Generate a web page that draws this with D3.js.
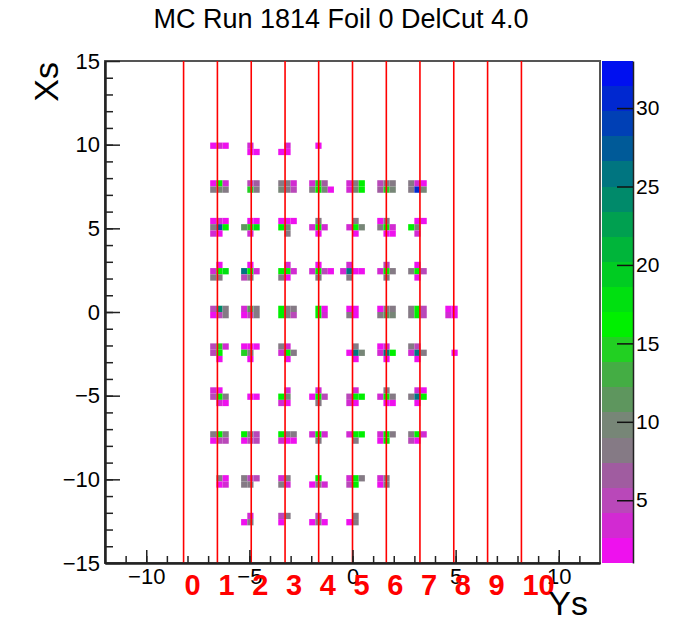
<!doctype html>
<html>
<head>
<meta charset="utf-8">
<title>MC Run 1814 Foil 0 DelCut 4.0</title>
<script src="https://cdn.jsdelivr.net/npm/d3@7"></script>
<style>
  body { margin: 0; background: #fff; }
  text { font-family: "Liberation Sans", Arial, sans-serif; }
</style>
</head>
<body>
<svg width="692" height="622"></svg>
<script>
// --- data ---
var title = "MC Run 1814 Foil 0 DelCut 4.0";
var xTicks = [-10, -5, 0, 5, 10];
var yTicks = [-15, -10, -5, 0, 5, 10, 15];
var zTicks = [5, 10, 15, 20, 25, 30];
// red sieve column lines and their labels
var lineXs = [-8.19, -6.55, -4.91, -3.27, -1.64, 0, 1.64, 3.27, 4.91, 6.55, 8.19];
var lineLabels = ["0", "1", "2", "3", "4", "5", "6", "7", "8", "9", "10"];
// hole rows (Xs) where the spots sit
var rowYs = [9.8, 7.5, 5.0, 2.5, 0, -2.5, -5.0, -7.5, -10.0, -12.4];
// 20 palette bands, low -> high
var palette = ["#ee11ee", "#d22ad2", "#b948b9", "#a05ca0", "#857a85", "#778677", "#5e965e",
               "#44ad44", "#22d022", "#00f000", "#00e010", "#00cc22", "#00b53a", "#00a050",
               "#008a6a", "#007580", "#005a98", "#0040b5", "#0028d0", "#0010f0"];
// spots: [row index, column (line) index, bin contents top->bottom, 0 = empty]
var spots = [
  [0, 1, [[2, 3, 2]]],
  [0, 2, [[4, 0], [2, 2]]],
  [0, 3, [[0, 4], [2, 2]]],
  [0, 4, [[2]]],

  [1, 1, [[2, 16, 3], [8, 10, 8]]],
  [1, 2, [[5, 7], [15, 8]]],
  [1, 3, [[8, 8, 4], [9, 8, 5]]],
  [1, 4, [[3, 15, 7, 0], [8, 16, 9, 2]]],
  [1, 5, [[3, 8, 16], [4, 10, 16]]],
  [1, 6, [[5, 8, 8], [6, 14, 9]]],
  [1, 7, [[8, 3, 2], [8, 30, 9]]],

  [2, 1, [[2, 3, 2], [8, 27, 16], [3, 2, 0]]],
  [2, 2, [[0, 2, 2], [12, 15, 17], [0, 3, 0]]],
  [2, 3, [[2, 2, 2], [16, 9, 0], [0, 8, 0]]],
  [2, 4, [[0, 8, 0], [3, 16, 4], [0, 2, 0]]],
  [2, 5, [[0, 8, 0], [3, 16, 9], [0, 2, 0]]],
  [2, 6, [[2, 8, 0], [8, 16, 3], [0, 2, 2]]],
  [2, 7, [[0, 2, 2], [16, 9, 0], [0, 3, 0]]],

  [3, 1, [[0, 2, 0], [3, 16, 17], [8, 8, 0]]],
  [3, 2, [[0, 2, 0], [25, 16, 3], [5, 8, 0]]],
  [3, 3, [[0, 3, 0], [16, 16, 3], [8, 2, 0]]],
  [3, 4, [[0, 2, 0, 0], [3, 16, 5, 2], [0, 8, 0, 0]]],
  [3, 5, [[0, 3, 0, 0], [3, 25, 2, 2], [0, 8, 0, 0]]],
  [3, 6, [[0, 5, 0], [3, 16, 8], [0, 8, 0]]],
  [3, 7, [[0, 2, 0], [8, 16, 5], [0, 2, 0]]],

  [4, 1, [[5, 24, 8], [2, 5, 8]]],
  [4, 2, [[3, 11, 8], [2, 5, 8]]],
  [4, 3, [[16, 8, 8], [16, 8, 5]]],
  [4, 4, [[16, 2], [16, 3]]],
  [4, 5, [[2, 2], [8, 2]]],
  [4, 6, [[2, 8, 8], [8, 12, 9]]],
  [4, 7, [[8, 16, 5], [8, 16, 5]]],
  [4, 8, [[2, 2], [3, 2]]],

  [5, 1, [[5, 15, 3], [5, 16, 0], [0, 2, 0]]],
  [5, 2, [[2, 2, 2], [15, 8, 0], [0, 2, 0]]],
  [5, 3, [[8, 3, 0], [3, 16, 8], [0, 2, 0]]],
  [5, 5, [[0, 8, 0], [2, 25, 9], [0, 2, 0]]],
  [5, 6, [[2, 3, 0], [3, 25, 16], [0, 2, 0]]],
  [5, 7, [[8, 5, 0], [3, 25, 8], [0, 2, 0]]],
  [5, 8, [[2]]],

  [6, 1, [[3, 2, 0], [5, 16, 8], [0, 3, 2]]],
  [6, 2, [[2, 2]]],
  [6, 3, [[0, 3, 0], [16, 9, 0], [3, 2, 0]]],
  [6, 4, [[0, 3, 0], [2, 16, 5], [0, 8, 0]]],
  [6, 5, [[0, 3, 0], [5, 16, 16], [3, 2, 0]]],
  [6, 6, [[0, 8, 0], [3, 16, 8], [0, 2, 2]]],
  [6, 7, [[0, 3, 2], [8, 25, 16], [0, 2, 0]]],

  [7, 1, [[8, 16, 8], [2, 5, 5]]],
  [7, 2, [[16, 8, 5], [2, 5, 5]]],
  [7, 3, [[16, 8, 8], [3, 2, 2]]],
  [7, 4, [[3, 16, 3], [0, 8, 0]]],
  [7, 5, [[3, 16, 16], [0, 8, 0]]],
  [7, 6, [[3, 16, 8], [2, 16, 0]]],
  [7, 7, [[8, 16, 3], [5, 2, 0]]],

  [8, 1, [[0, 8, 2], [0, 2, 3]]],
  [8, 2, [[8, 5, 5], [8, 8, 0]]],
  [8, 3, [[3, 8, 0], [8, 3, 0]]],
  [8, 4, [[0, 16, 0], [2, 8, 3]]],
  [8, 5, [[3, 16, 8], [5, 16, 0]]],
  [8, 6, [[3, 8, 0], [2, 8, 0]]],

  [9, 2, [[0, 3, 0], [2, 8, 0]]],
  [9, 3, [[5, 8, 0], [2, 0, 0]]],
  [9, 4, [[0, 5, 0], [2, 8, 2]]],
  [9, 5, [[0, 8], [2, 8]]]
];
// histogram binning
var xMin = -12, xMax = 12, binW = 0.3;
var yMin = -15, yMax = 15, binH = 0.375;
var zMin = 1, zMax = 33;

// --- layout ---
var svg = d3.select("svg"),
    margin = {top: 61, left: 105},
    width = 495,
    height = 502,
    g = svg.append("g").attr("transform", "translate(" + margin.left + "," + margin.top + ")");

var x = d3.scaleLinear().domain([xMin, xMax]).range([0, width]);
var y = d3.scaleLinear().domain([yMin, yMax]).range([height, 0]);
var z = d3.scaleLinear().domain([zMin, zMax]).range([height, 0]);
var color = d3.scaleQuantize().domain([zMin, zMax]).range(palette);

var fmt = function(d) { return d < 0 ? "\u2212" + Math.abs(d) : "" + d; };

// expand spots into bins
var cells = [];
spots.forEach(function(s) {
  var cy = rowYs[s[0]], cx = lineXs[s[1]], m = s[2];
  var nR = m.length, nC = m[0].length;
  var ix0 = Math.round((cx - xMin) / binW - nC / 2);
  var iy0 = Math.round((cy - yMin) / binH - nR / 2);
  m.forEach(function(row, i) {
    row.forEach(function(v, j) {
      if (v > 0) cells.push({ix: ix0 + j, iy: iy0 + nR - 1 - i, v: v});
    });
  });
});

g.selectAll("rect.bin")
  .data(cells)
  .enter().append("rect")
    .attr("class", "bin")
    .attr("x", function(d) { return x(xMin + d.ix * binW); })
    .attr("y", function(d) { return y(yMin + (d.iy + 1) * binH); })
    .attr("width", function(d) { return x(xMin + (d.ix + 1) * binW) - x(xMin + d.ix * binW); })
    .attr("height", function(d) { return y(yMin + d.iy * binH) - y(yMin + (d.iy + 1) * binH); })
    .attr("fill", function(d) { return color(d.v); });

// frame
g.append("rect")
  .attr("width", width)
  .attr("height", height)
  .attr("fill", "none")
  .attr("stroke", "#555")
  .attr("stroke-width", 2);

// red column lines
g.selectAll("line.col")
  .data(lineXs)
  .enter().append("line")
    .attr("class", "col")
    .attr("x1", function(d) { return x(d); })
    .attr("x2", function(d) { return x(d); })
    .attr("y1", 0)
    .attr("y2", height)
    .attr("stroke", "#ff0000")
    .attr("stroke-width", 1.6);

// axes: minor then major ticks, pointing inward
g.append("g")
  .attr("transform", "translate(0," + height + ")")
  .call(d3.axisBottom(x).tickValues(d3.range(-11, 12)).tickSize(-7).tickSizeOuter(0).tickFormat(""));
g.append("g")
  .attr("transform", "translate(0," + height + ")")
  .call(d3.axisBottom(x).tickValues(xTicks).tickSize(-13).tickSizeOuter(0).tickPadding(5).tickFormat(fmt));
g.append("g")
  .call(d3.axisLeft(y).tickValues(d3.range(-14, 15)).tickSize(-8).tickSizeOuter(0).tickFormat(""));
g.append("g")
  .call(d3.axisLeft(y).tickValues(yTicks).tickSize(-15).tickSizeOuter(0).tickPadding(5).tickFormat(fmt));

g.selectAll(".domain").attr("stroke", "#222").attr("stroke-width", 2);
g.selectAll(".tick line").attr("stroke", "#222").attr("stroke-width", 1.5);
g.selectAll(".tick text").attr("font-size", 22).attr("fill", "#000")
  .style("font-family", "'Liberation Sans', Arial, sans-serif");

// red labels for the lines
g.selectAll("text.colLabel")
  .data(lineXs)
  .enter().append("text")
    .attr("class", "colLabel")
    .attr("x", function(d) { return x(d) + 1; })
    .attr("y", height + 32)
    .attr("fill", "#ff0000")
    .attr("font-weight", "bold")
    .attr("font-size", 29)
    .text(function(d, i) { return lineLabels[i]; });

// axis titles
svg.append("text")
  .attr("transform", "translate(58,62) rotate(-90)")
  .attr("text-anchor", "end")
  .attr("font-size", 34)
  .text("Xs");
svg.append("text")
  .attr("x", 588)
  .attr("y", 615)
  .attr("text-anchor", "end")
  .attr("font-size", 34)
  .text("Ys");

// title
svg.append("text")
  .attr("x", 341)
  .attr("y", 28)
  .attr("text-anchor", "middle")
  .attr("font-size", 27)
  .text(title);

// palette bar
var bar = svg.append("g").attr("transform", "translate(602," + margin.top + ")"),
    barW = 31,
    step = (zMax - zMin) / palette.length;
bar.selectAll("rect")
  .data(palette)
  .enter().append("rect")
    .attr("x", 0)
    .attr("y", function(d, i) { return z(zMin + (i + 1) * step); })
    .attr("width", barW)
    .attr("height", function(d, i) { return z(zMin + i * step) - z(zMin + (i + 1) * step); })
    .attr("fill", function(d) { return d; })
    .attr("shape-rendering", "crispEdges");
bar.append("g")
  .attr("transform", "translate(" + barW + ",0)")
  .call(d3.axisRight(z).tickValues(zTicks).tickSize(-16).tickSizeOuter(0).tickPadding(3));
bar.selectAll(".domain").attr("stroke", "#222").attr("stroke-width", 1.5);
bar.selectAll(".tick line").attr("stroke", "#111").attr("stroke-width", 1.5);
bar.selectAll(".tick text").attr("font-size", 21).attr("fill", "#000")
  .style("font-family", "'Liberation Sans', Arial, sans-serif");
</script>
</body>
</html>
